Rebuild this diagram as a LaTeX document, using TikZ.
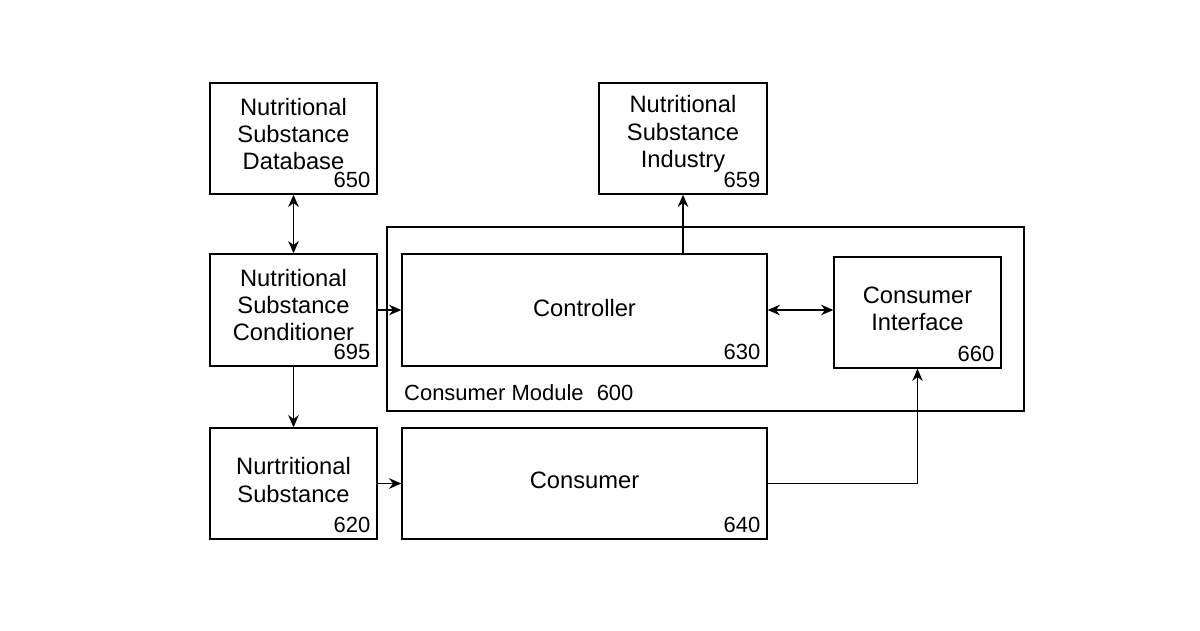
\documentclass[tikz,border=0pt]{standalone}
\usepackage{fontspec}
\setmainfont{Liberation Sans}
\usetikzlibrary{arrows.meta,positioning}
\tikzset{
  box/.style={draw,thick,inner sep=0pt},
  txt/.style={align=center,font=\fontsize{13.5}{15.5}\selectfont,inner sep=0pt},
  num/.style={anchor=south east,inner sep=4pt,font=\fontsize{12.5}{14}\selectfont},
  conn/.style={thick,-{Stealth[length=7pt,width=6pt]}},
  dconn/.style={thick,{Stealth[length=7pt,width=6pt]}-{Stealth[length=7pt,width=6pt]}}
}
\begin{document}
\begin{tikzpicture}[x=0.02cm,y=-0.02cm]
  \useasboundingbox (0,0) rectangle (1200,630);
  % consumer module frame
  \node[box,minimum width=12.74cm,minimum height=3.68cm] (module) at (705.5,319) {};
  \node[anchor=west,font=\fontsize{12.5}{14}\selectfont] (modlbl) at (398,393) {Consumer Module\hspace{0.6em}600};
  % blocks
  \node[box,minimum width=3.34cm,minimum height=2.22cm] (db) at (293.5,138.5) {};
  \node[txt] (dbt) at (293.5,134) {Nutritional\\Substance\\Database};
  \node[num] (dbn) at (db.south east) {650};
  \node[box,minimum width=3.36cm,minimum height=2.22cm] (ind) at (683,138.5) {};
  \node[txt] (indt) at (683,134) {Nutritional\\Substance\\Industry};
  \node[num] (indn) at (ind.south east) {659};
  \node[box,minimum width=3.34cm,minimum height=2.24cm] (cond) at (293.5,310) {};
  \node[txt] (condt) at (293.5,305) {Nutritional\\Substance\\Conditioner};
  \node[num] (condn) at (cond.south east) {695};
  \node[box,minimum width=7.3cm,minimum height=2.24cm] (ctrl) at (584.5,310) {};
  \node[txt] (ctrlt) at (584.5,308) {Controller};
  \node[num] (ctrln) at (ctrl.south east) {630};
  \node[box,minimum width=3.34cm,minimum height=2.22cm] (ui) at (917.5,312.5) {};
  \node[txt] (uit) at (917.5,309) {Consumer\\Interface};
  \node[num] (uin) at (ui.south east) {660};
  \node[box,minimum width=3.34cm,minimum height=2.22cm] (sub) at (293.5,483.5) {};
  \node[txt] (subt) at (293.5,480) {Nurtritional\\Substance};
  \node[num] (subn) at (sub.south east) {620};
  \node[box,minimum width=7.3cm,minimum height=2.22cm] (cons) at (584.5,483.5) {};
  \node[txt] (const) at (584.5,480) {Consumer};
  \node[num] (consn) at (cons.south east) {640};
  % connectors
  \draw[dconn] (db) -- (cond);
  \draw[conn] (cond.east |- ctrl.west) -- (ctrl.west);
  \draw[conn] (cond) -- (sub);
  \draw[conn] (sub) -- (cons);
  \draw[conn] (ctrl.north -| ind.south) -- (ind.south);
  \draw[dconn] (ctrl.east) -- (ctrl.east -| ui.west);
  \draw[conn] (cons.east) -| (ui.south);
\end{tikzpicture}
\end{document}
